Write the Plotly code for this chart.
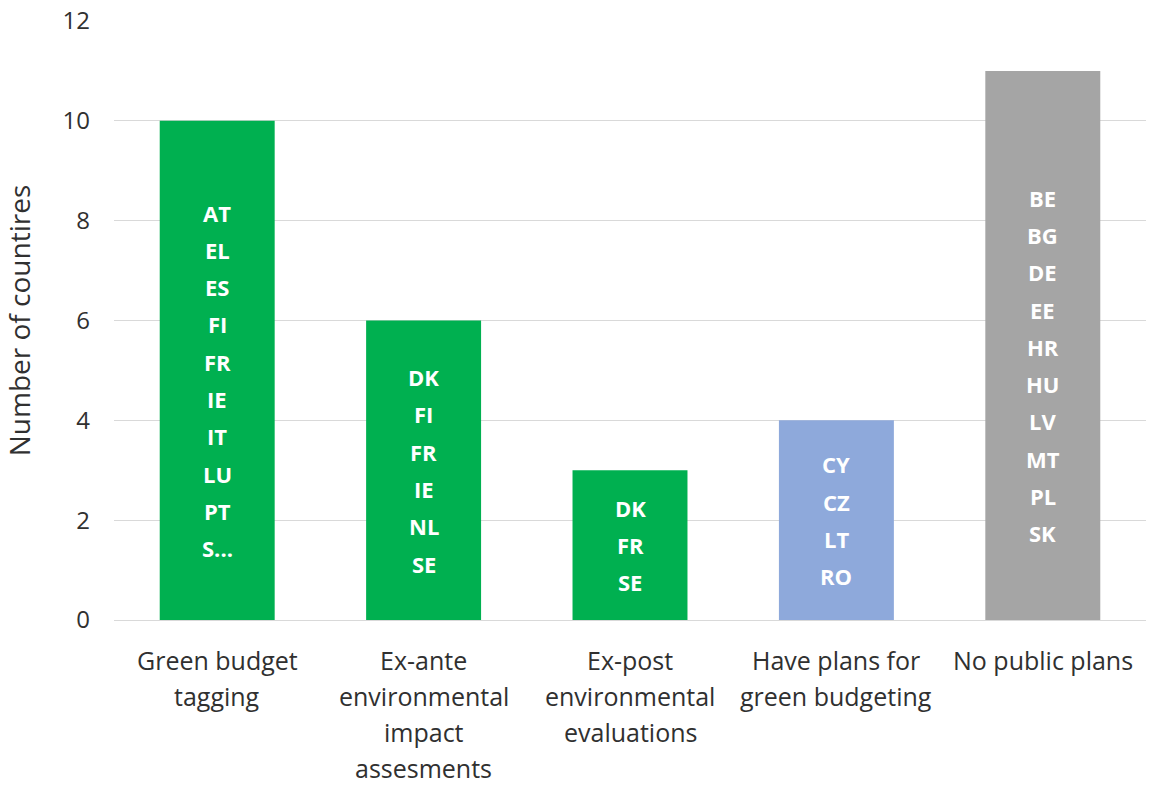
import plotly.graph_objects as go

# Categories (x-axis label lines) and values
category_lines = [
    ["Green budget", "tagging"],
    ["Ex-ante", "environmental", "impact", "assesments"],
    ["Ex-post", "environmental", "evaluations"],
    ["Have plans for", "green budgeting"],
    ["No public plans"],
]
categories = [" ".join(c) for c in category_lines]
counts = [10, 6, 3, 4, 11]
country_labels = [
    ["AT", "EL", "ES", "FI", "FR", "IE", "IT", "LU", "PT", "S..."],
    ["DK", "FI", "FR", "IE", "NL", "SE"],
    ["DK", "FR", "SE"],
    ["CY", "CZ", "LT", "RO"],
    ["BE", "BG", "DE", "EE", "HR", "HU", "LV", "MT", "PL", "SK"],
]
bar_colors = ["#00B050", "#00B050", "#00B050", "#8EA9DB", "#A5A5A5"]

FONT = "Open Sans"
TEXT_COLOR = "#303030"

# Pixel nudges for the stacked label blocks inside the bars (layout only)
label_nudge_px = [-10, 0, 0, 0, -20]
label_step = 37.3

fig = go.Figure(
    go.Bar(
        x=categories,
        y=counts,
        marker=dict(color=bar_colors, line=dict(width=0)),
        hoverinfo="x+y",
    )
)

annotations = []
# Country codes stacked inside each bar, centred on the bar's midpoint
for cat, val, labels, nudge in zip(categories, counts, country_labels, label_nudge_px):
    n = len(labels)
    for i, code in enumerate(labels):
        annotations.append(dict(
            x=cat, y=val / 2, xref="x", yref="y",
            text="<b>" + code + "</b>", showarrow=False,
            yshift=((n - 1) / 2 - i) * label_step + nudge,
            font=dict(family=FONT, size=22, color="white"),
        ))

# Multi-line category labels below the axis
line_step = 36
for cat, lines in zip(categories, category_lines):
    for j, line in enumerate(lines):
        annotations.append(dict(
            x=cat, y=0, xref="x", yref="y",
            text=line, showarrow=False, yanchor="middle",
            yshift=-40 - j * line_step,
            font=dict(family=FONT, size=25, color=TEXT_COLOR),
        ))

fig.update_layout(
    width=1150, height=785,
    margin=dict(l=114, r=4, t=21, b=165),
    paper_bgcolor="white", plot_bgcolor="white",
    bargap=0.443,
    showlegend=False,
    font=dict(family=FONT, size=24, color=TEXT_COLOR),
    annotations=annotations,
    xaxis=dict(showticklabels=False, showline=False, showgrid=False,
               zeroline=False, fixedrange=True),
    yaxis=dict(
        range=[0, 12], dtick=2, tick0=0,
        showgrid=True, gridcolor="#D9D9D9", gridwidth=1,
        zeroline=True, zerolinecolor="#D9D9D9", zerolinewidth=1,
        showline=False,
        ticklabelstandoff=23,
        tickfont=dict(family=FONT, size=24, color=TEXT_COLOR),
        title=dict(text="Number of countires", standoff=24,
                   font=dict(family=FONT, size=28, color=TEXT_COLOR)),
    ),
)

fig.write_html("out.html")
